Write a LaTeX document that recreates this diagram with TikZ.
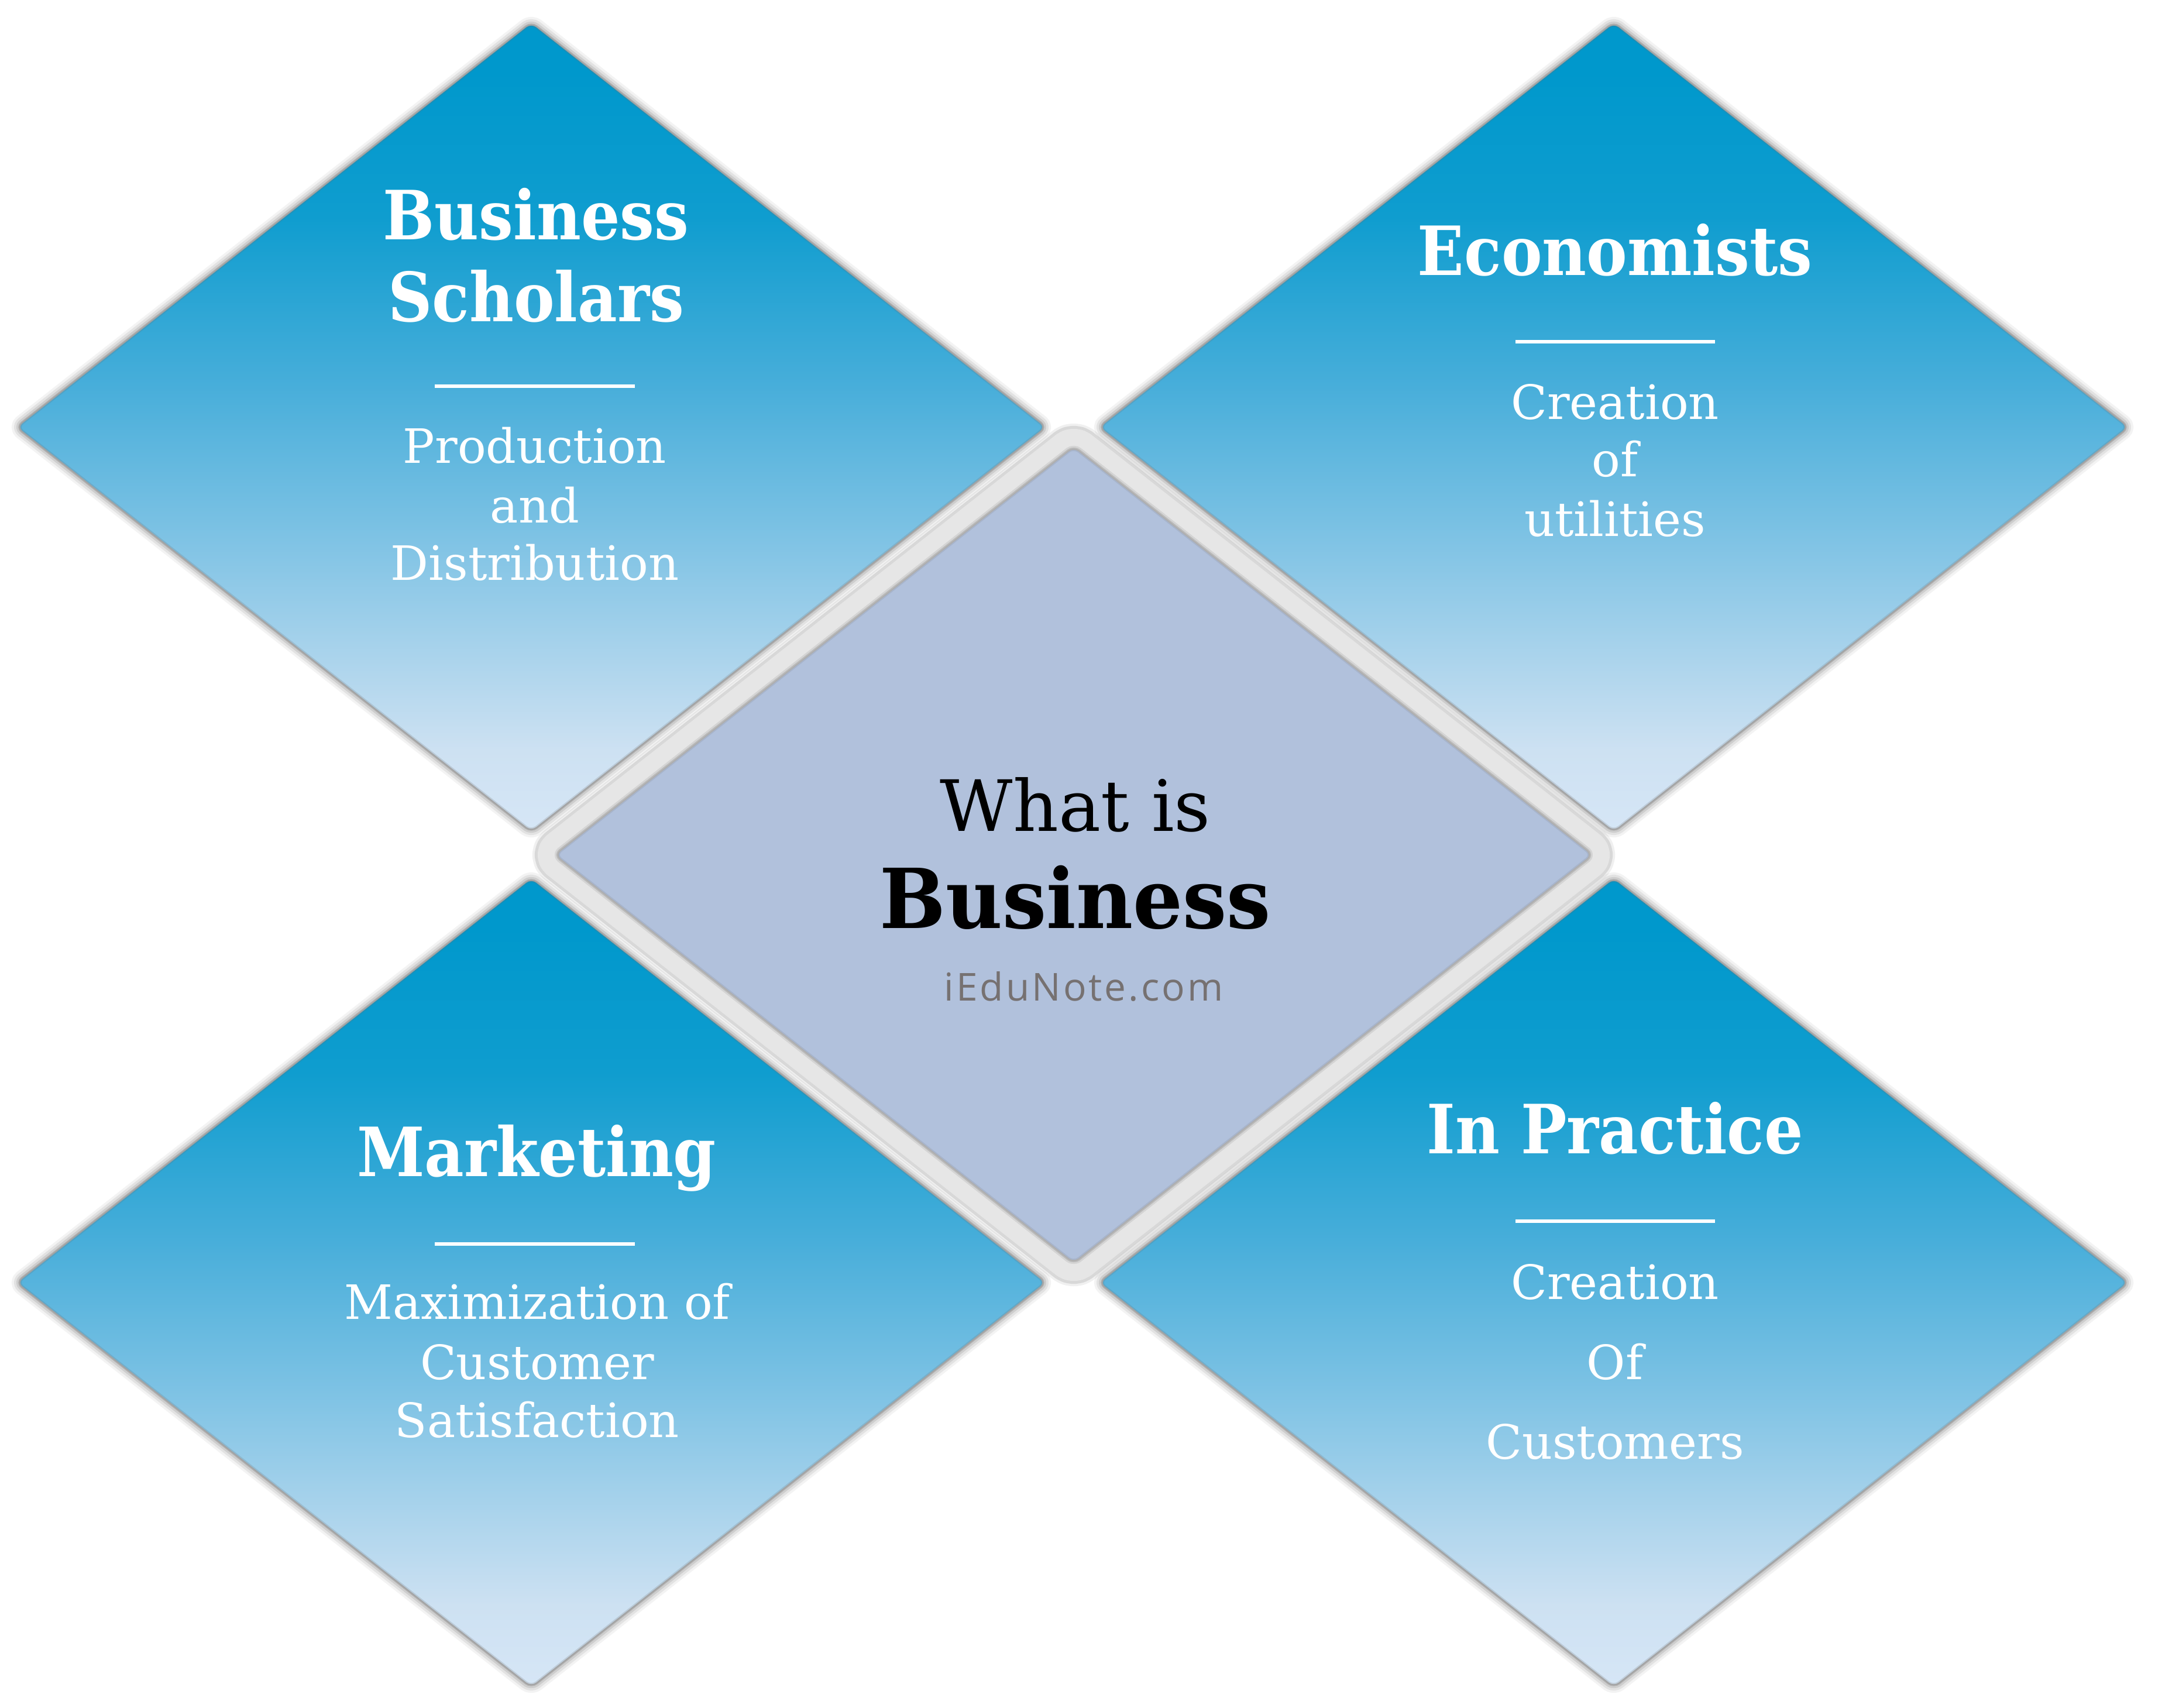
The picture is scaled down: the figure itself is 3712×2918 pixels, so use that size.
\documentclass[tikz,border=0pt]{standalone}
\usepackage{fontspec}
\setmainfont{DejaVu Serif Condensed}
\newfontfamily\bodyf{DejaVu Serif}
\newfontfamily\sansf{Open Sans}[LetterSpace=6]
\newlength\pxu \setlength\pxu{0.28453pt}
\definecolor{c0}{RGB}{214,230,246}
\definecolor{c1}{RGB}{205,225,242}
\definecolor{c2}{RGB}{130,196,229}
\definecolor{c3}{RGB}{72,174,218}
\definecolor{c4}{RGB}{15,157,207}
\definecolor{c5}{RGB}{0,152,204}
\definecolor{lav}{RGB}{177,193,220}
\definecolor{bandc}{RGB}{230,230,230}
\definecolor{edgegray}{RGB}{110,110,110}
\definecolor{webgray}{RGB}{118,113,113}
\pgfdeclareverticalshading{bluegrad}{100bp}{color(0bp)=(c0); color(25bp)=(c0); color(30bp)=(c1); color(42.5bp)=(c2); color(52.5bp)=(c3); color(63bp)=(c4); color(72bp)=(c5); color(100bp)=(c5)}
\tikzset{
  ttl/.style={text=white, font=\bfseries\fontsize{33}{40}\selectfont, anchor=base, inner sep=0pt},
  bdy/.style={text=white, font=\bodyf\fontsize{23}{28}\selectfont, anchor=base, inner sep=0pt},
  divider/.style={draw=white, line width=6\pxu},
  glow/.style={draw=edgegray, line join=round, rounded corners=3pt},
}
\begin{document}
\begin{tikzpicture}[x=0.01cm, y=-0.01cm]
\useasboundingbox[fill=white] (0,0) rectangle (3712,2918);
% outer diamonds
\foreach \cx/\cy in {908/730, 2758/730, 908/2192, 2758/2192}{
  \foreach \w/\o in {30/0.08, 22/0.12, 14/0.18, 7/0.3}{
    \path[glow, draw opacity=\o, line width=\w\pxu]
      (\cx-878,\cy) -- (\cx,\cy-690) -- (\cx+878,\cy) -- (\cx,\cy+690) -- cycle;
  }
  \path[shading=bluegrad, rounded corners=3pt]
      (\cx-878,\cy) -- (\cx,\cy-690) -- (\cx+878,\cy) -- (\cx,\cy+690) -- cycle;
  \path[glow, draw opacity=0.2, line width=4\pxu]
      (\cx-878,\cy) -- (\cx,\cy-690) -- (\cx+878,\cy) -- (\cx,\cy+690) -- cycle;
}
% center diamond
\foreach \w/\o in {90/0.10, 82/0.18}{
  \path[glow, draw opacity=\o, line width=\w\pxu]
    (950,1461) -- (1835,765) -- (2720,1461) -- (1835,2157) -- cycle;
}
\path[draw=bandc, line width=72\pxu, line join=round, rounded corners=3pt]
    (950,1461) -- (1835,765) -- (2720,1461) -- (1835,2157) -- cycle;
\foreach \w/\o in {14/0.15, 8/0.25}{
  \path[glow, draw opacity=\o, line width=\w\pxu]
    (950,1461) -- (1835,765) -- (2720,1461) -- (1835,2157) -- cycle;
}
\path[fill=lav, rounded corners=3pt]
    (950,1461) -- (1835,765) -- (2720,1461) -- (1835,2157) -- cycle;
\path[glow, draw opacity=0.15, line width=4\pxu]
    (950,1461) -- (1835,765) -- (2720,1461) -- (1835,2157) -- cycle;

% Business Scholars
\node[ttl] (bs1) at (916,409) {Business};
\node[ttl] (bs2) at (916,549) {Scholars};
\coordinate (bsl) at (743,660); \coordinate (bsr) at (1085,660);
\draw[divider] (bsl) -- (bsr);
\node[bdy] (bsa) at (914,791) {Production};
\node[bdy] (bsb) at (914,893) {and};
\node[bdy] (bsc) at (914,991) {Distribution};

% Economists
\node[ttl] (ec1) at (2760,470) {Economists};
\coordinate (ecl) at (2590,584); \coordinate (ecr) at (2931,584);
\draw[divider] (ecl) -- (ecr);
\node[bdy] (eca) at (2760,716) {Creation};
\node[bdy] (ecb) at (2760,814) {of};
\node[bdy] (ecc) at (2760,916) {utilities};

% Marketing
\node[ttl] (mk1) at (917,2010) {Marketing};
\coordinate (mkl) at (743,2126); \coordinate (mkr) at (1085,2126);
\draw[divider] (mkl) -- (mkr);
\node[bdy] (mka) at (918,2254) {Maximization of};
\node[bdy] (mkb) at (918,2357) {Customer};
\node[bdy] (mkc) at (918,2456) {Satisfaction};

% In Practice
\node[ttl] (ip1) at (2760,1971) {In Practice};
\coordinate (ipl) at (2590,2087); \coordinate (ipr) at (2931,2087);
\draw[divider] (ipl) -- (ipr);
\node[bdy] (ipa) at (2760,2220) {Creation};
\node[bdy] (ipb) at (2760,2357) {Of};
\node[bdy] (ipc) at (2760,2493) {Customers};

% center text
\node[anchor=base, inner sep=0pt, font=\bodyf\fontsize{34.4}{40}\selectfont] (w1) at (1838,1420) {What is};
\node[anchor=base, inner sep=0pt, font=\bfseries\fontsize{40.2}{46}\selectfont] (w2) at (1838,1586) {\scalebox{1.05}[1]{Business}};
\node[anchor=base, inner sep=0pt, text=webgray, font=\sansf\fontsize{18.7}{22}\selectfont] (w3) at (1852,1710) {iEduNote.com};
\end{tikzpicture}
\end{document}
